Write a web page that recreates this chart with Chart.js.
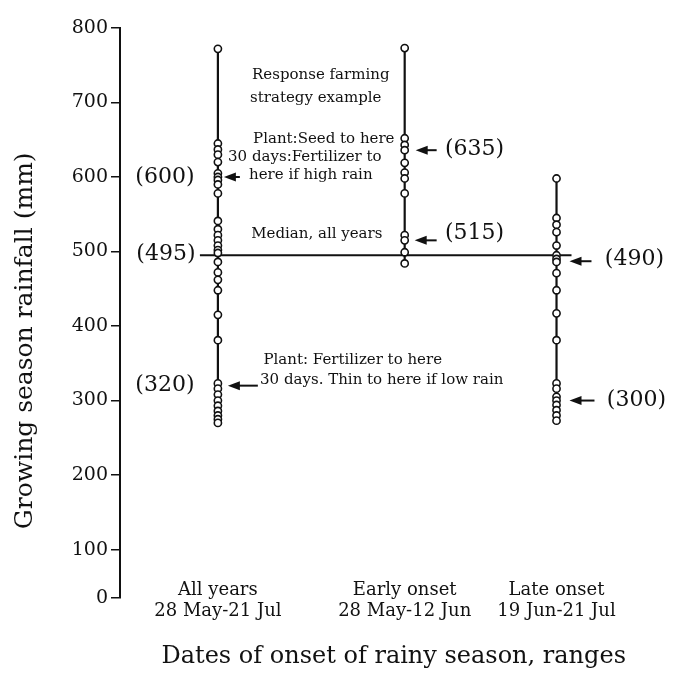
<!DOCTYPE html>
<html>
<head>
<meta charset="utf-8">
<script src="https://cdn.jsdelivr.net/npm/chart.js@4.4.1/dist/chart.umd.min.js"></script>
<style>
html, body { margin: 0; padding: 0; background: #fff; }
#wrap { width: 673px; height: 676px; }
</style>
</head>
<body>
<div id="wrap"><canvas id="chart"></canvas></div>
<script>
// category labels (two lines each)
var categories = [
    ["All years", "28 May-21 Jul"],
    ["Early onset", "28 May-12 Jun"],
    ["Late onset", "19 Jun-21 Jul"]
];
// growing season rainfall (mm), one circle per year
var allYears = [772, 645, 637, 630, 620, 605, 600, 596, 590, 578, 541, 530, 522, 515, 508, 502,
    498, 486, 472, 462, 448, 415, 381, 323, 316, 308, 300, 293, 286, 280, 275, 270];
var earlyOnset = [773, 652, 643, 636, 619, 606, 598, 578, 522, 515, 499, 484];
var lateOnset = [598, 545, 536, 526, 508, 495, 490, 486, 471, 448, 417, 381, 323, 316, 305,
    300, 294, 287, 280, 273];
var medianAll = 495;
var yTicks = [100, 200, 300, 400, 500, 600, 700, 800];

// layout only: the x scale runs in page pixels (120..668), columns sit at these
var columnX = [218, 405, 557];
var medianSpan = [200, 572];
// the printed axis is squeezed below 100, its "0" sits at this scale value
var yBottom = 35;

var serif = "'DejaVu Serif', 'Liberation Serif', serif";

var notes = [
    { text: "Response farming", x: 321, y: 737, size: 15 },
    { text: "strategy example", x: 316, y: 706, size: 15 },
    { text: "Plant:Seed to here", x: 324, y: 651, size: 15 },
    { text: "30 days:Fertilizer to", x: 305, y: 627, size: 15 },
    { text: "here if high rain", x: 311, y: 603, size: 15 },
    { text: "Median, all years", x: 317, y: 524, size: 15 },
    { text: "Plant: Fertilizer to here", x: 353, y: 354, size: 15 },
    { text: "30 days. Thin to here if low rain", x: 382, y: 327, size: 15 },
    { text: "(600)", x: 165, y: 600, size: 22 },
    { text: "(495)", x: 166, y: 496, size: 22 },
    { text: "(320)", x: 165, y: 320, size: 22 },
    { text: "(635)", x: 475, y: 637, size: 22 },
    { text: "(515)", x: 475, y: 524, size: 22 },
    { text: "(490)", x: 635, y: 489, size: 22 },
    { text: "(300)", x: 637, y: 300, size: 22 }
];
var arrows = [
    { from: 240, to: 224, y: 600 },
    { from: 258, to: 228, y: 320 },
    { from: 437, to: 416, y: 636 },
    { from: 437, to: 415, y: 515 },
    { from: 592, to: 570, y: 487 },
    { from: 595, to: 570, y: 300 }
];

function column(values, i) {
    return {
        data: values.map(function (v) { return { x: columnX[i], y: v }; }),
        showLine: true,
        borderColor: "#111",
        borderWidth: 2.2,
        pointRadius: 3.6,
        pointBorderWidth: 1.6,
        pointBackgroundColor: "#fff",
        pointBorderColor: "#111"
    };
}

var notesPlugin = {
    id: "notes",
    afterDatasetsDraw: function (chart) {
        var ctx = chart.ctx, xs = chart.scales.x, ys = chart.scales.y;
        ctx.save();
        ctx.fillStyle = "#111";
        ctx.strokeStyle = "#111";
        ctx.textAlign = "center";
        ctx.textBaseline = "middle";
        notes.forEach(function (n) {
            ctx.font = n.size + "px " + serif;
            ctx.fillText(n.text, xs.getPixelForValue(n.x), ys.getPixelForValue(n.y));
        });
        // category labels sit just above and on the foot of the axis
        ctx.font = "18px " + serif;
        categories.forEach(function (lines, i) {
            var px = xs.getPixelForValue(columnX[i]);
            ctx.fillText(lines[0], px, ys.bottom - 8);
            ctx.fillText(lines[1], px, ys.bottom + 13);
        });
        arrows.forEach(function (a) {
            var x1 = xs.getPixelForValue(a.from), x2 = xs.getPixelForValue(a.to);
            var y = ys.getPixelForValue(a.y);
            ctx.lineWidth = 2;
            ctx.beginPath();
            ctx.moveTo(x1, y);
            ctx.lineTo(x2 + 6, y);
            ctx.stroke();
            ctx.beginPath();
            ctx.moveTo(x2, y);
            ctx.lineTo(x2 + 12, y - 4.5);
            ctx.lineTo(x2 + 12, y + 4.5);
            ctx.closePath();
            ctx.fill();
        });
        ctx.restore();
    }
};

var datasets = [column(allYears, 0), column(earlyOnset, 1), column(lateOnset, 2)];
datasets.push({
    data: [{ x: medianSpan[0], y: medianAll }, { x: medianSpan[1], y: medianAll }],
    showLine: true,
    borderColor: "#111",
    borderWidth: 2,
    pointRadius: 0
});

new Chart(document.getElementById("chart"), {
    type: "scatter",
    data: { datasets: datasets },
    options: {
        responsive: true,
        maintainAspectRatio: false,
        animation: false,
        layout: { padding: { left: 0, right: 5, top: 28, bottom: 0 } },
        plugins: { legend: { display: false }, tooltip: { enabled: false } },
        scales: {
            x: {
                type: "linear",
                min: 120,
                max: 668,
                afterFit: function (scale) { scale.height = 78; },
                grid: { display: false, drawTicks: false },
                border: { display: false },
                ticks: { display: false },
                title: {
                    display: true,
                    text: "Dates of onset of rainy season, ranges",
                    color: "#111",
                    font: { family: serif, size: 24, lineHeight: 1 },
                    padding: { top: 0, bottom: 7 }
                }
            },
            y: {
                min: yBottom,
                max: 800,
                afterBuildTicks: function (scale) {
                    scale.ticks = [{ value: yBottom }].concat(yTicks.map(function (v) { return { value: v }; }));
                },
                afterFit: function (scale) { scale.width = 120; },
                grid: { drawOnChartArea: false, tickLength: 9, color: "#111", lineWidth: 1.5 },
                border: { display: true, color: "#111", width: 2 },
                ticks: {
                    padding: 3,
                    color: "#111",
                    font: { family: serif, size: 19 },
                    callback: function (v) { return v === yBottom ? "0" : String(v); }
                },
                title: {
                    display: true,
                    // trailing spaces push the printed title a little below the axis centre
                    text: "Growing season rainfall (mm)       ",
                    color: "#111",
                    font: { family: serif, size: 25 },
                    padding: { top: 10, bottom: 0 }
                }
            }
        }
    },
    plugins: [notesPlugin]
});
</script>
</body>
</html>
